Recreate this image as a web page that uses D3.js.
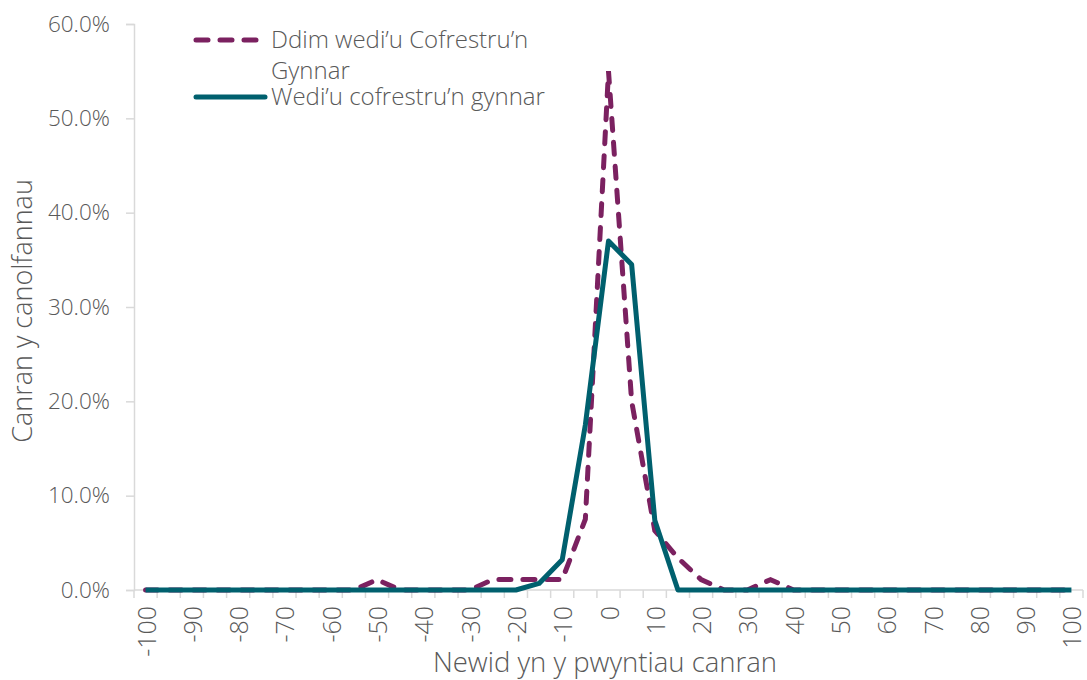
<!DOCTYPE html>
<html>
<head>
<meta charset="utf-8">
<script src="https://cdn.jsdelivr.net/npm/d3@7"></script>
<style>
  body { margin: 0; background: #fff; }
  svg text { font-family: "Open Sans", "Noto Sans", sans-serif; font-weight: 300; fill: #595959; }
</style>
</head>
<body>
<svg id="chart" width="1087" height="680"></svg>
<script>
// x categories (percentage point change)
var categories = [-100,-95,-90,-85,-80,-75,-70,-65,-60,-55,-50,-45,-40,-35,-30,-25,-20,-15,-10,-5,
                  0,5,10,15,20,25,30,35,40,45,50,55,60,65,70,75,80,85,90,95,100];

// Ddim wedi'u Cofrestru'n Gynnar (dashed)
var notEarly = [0,0,0,0,0,0,0,0,0,0,1.1,0,0,0,0,1.1,1.1,1.1,1.1,7.5,
                55.0,20.0,6.3,3.4,1.1,0,0,1.1,0,0,0,0,0,0,0,0,0,0,0,0,0];

// Wedi'u cofrestru'n gynnar (solid)
var early = [0,0,0,0,0,0,0,0,0,0,0,0,0,0,0,0,0,0.7,3.2,17.5,
             37.0,34.5,7.4,0,0,0,0,0,0,0,0,0,0,0,0,0,0,0,0,0,0];

var yTicks = [0,10,20,30,40,50,60];
var seriesNames = ["Ddim wedi\u2019u Cofrestru\u2019n", "Gynnar", "Wedi\u2019u cofrestru\u2019n gynnar"];

var purple = "#7b2160";
var teal = "#00606e";
var axisGrey = "#d9d9d9";

var svg = d3.select("#chart");
var plotLeft = 134, plotRight = 1083, plotTop = 24, plotBottom = 590;

var x = d3.scaleBand().domain(categories).range([plotLeft, plotRight]).padding(0);
var y = d3.scaleLinear().domain([0, 60]).range([plotBottom, plotTop]);

// y axis
var yAxis = svg.append("g").attr("transform", "translate(" + plotLeft + ",0)")
    .call(d3.axisLeft(y).tickValues(yTicks).tickSize(8).tickPadding(16)
        .tickFormat(function(d){ return d.toFixed(1) + "%"; }));
yAxis.select(".domain").attr("stroke", axisGrey).attr("stroke-width", 1.5);
yAxis.selectAll(".tick line").attr("stroke", axisGrey).attr("stroke-width", 1.5);
yAxis.selectAll(".tick text").attr("font-size", "22.5px").attr("fill", "#595959")
    .attr("font-family", "Open Sans");

// x axis baseline and ticks between categories
svg.append("line")
    .attr("x1", plotLeft).attr("x2", plotRight)
    .attr("y1", plotBottom).attr("y2", plotBottom)
    .attr("stroke", axisGrey).attr("stroke-width", 1.5);

var edges = categories.map(function(c){ return x(c); }).concat([x(100) + x.bandwidth()]);
svg.selectAll(".xtick").data(edges).enter().append("line")
    .attr("class", "xtick")
    .attr("x1", function(d){ return d; }).attr("x2", function(d){ return d; })
    .attr("y1", plotBottom).attr("y2", plotBottom + 8)
    .attr("stroke", axisGrey).attr("stroke-width", 1.5);

svg.selectAll(".xlab").data(categories.filter(function(c){ return c % 10 === 0; }))
  .enter().append("text")
    .attr("class", "xlab")
    .attr("font-size", "25px")
    .attr("text-anchor", "end")
    .attr("dy", "0.36em")
    .attr("transform", function(d){
        return "translate(" + (x(d) + x.bandwidth()/2 + 1) + "," + (plotBottom + 16) + ") rotate(-90)";
    })
    .text(function(d){ return d; });

// axis titles
svg.append("text")
    .attr("x", 605).attr("y", 672)
    .attr("text-anchor", "middle").attr("font-size", "27.5px")
    .text("Newid yn y pwyntiau canran");

svg.append("text")
    .attr("transform", "translate(32," + 311 + ") rotate(-90)")
    .attr("text-anchor", "middle").attr("font-size", "27px")
    .text("Canran y canolfannau");

// lines
var line = d3.line()
    .x(function(d, i){ return x(categories[i]) + x.bandwidth()/2; })
    .y(function(d){ return y(d); });

svg.append("path").datum(notEarly)
    .attr("d", line)
    .attr("fill", "none")
    .attr("stroke", purple)
    .attr("stroke-width", 5)
    .attr("stroke-dasharray", "12,12")
    .attr("stroke-linecap", "round");

svg.append("path").datum(early)
    .attr("d", line)
    .attr("fill", "none")
    .attr("stroke", teal)
    .attr("stroke-width", 5)
    .attr("stroke-linejoin", "round");

// legend
var legend = svg.append("g");
legend.append("line")
    .attr("x1", 196).attr("x2", 262).attr("y1", 40).attr("y2", 40)
    .attr("stroke", purple).attr("stroke-width", 5)
    .attr("stroke-dasharray", "12,12").attr("stroke-linecap", "round");
legend.append("text").attr("x", 271).attr("y", 48).attr("font-size", "24px").text(seriesNames[0]);
legend.append("text").attr("x", 271).attr("y", 79).attr("font-size", "24px").text(seriesNames[1]);
legend.append("line")
    .attr("x1", 196).attr("x2", 265).attr("y1", 97).attr("y2", 97)
    .attr("stroke", teal).attr("stroke-width", 5).attr("stroke-linecap", "round");
legend.append("text").attr("x", 271).attr("y", 105).attr("font-size", "24px").text(seriesNames[2]);
</script>
</body>
</html>
